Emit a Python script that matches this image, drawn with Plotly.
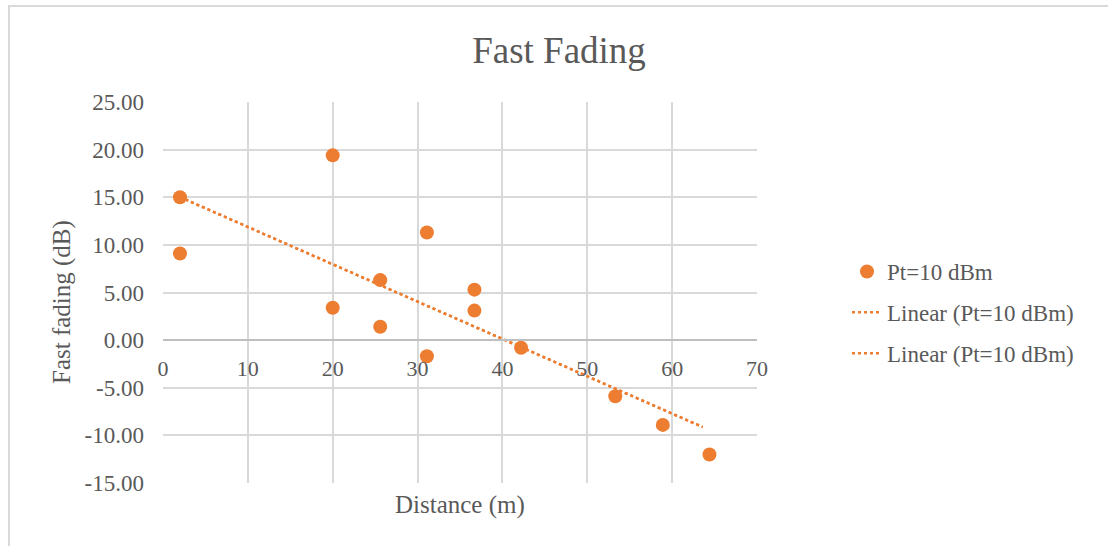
import numpy as np
import plotly.graph_objects as go

distance = [2.0, 2.0, 20.0, 20.0, 25.6, 25.6, 31.1, 31.1, 36.7, 36.7, 42.2, 53.3, 58.9, 64.4]
fading = [15.0, 9.1, 19.4, 3.4, 6.3, 1.4, 11.3, -1.7, 5.3, 3.1, -0.8, -5.9, -8.9, -12.0]
series_name = "Pt=10 dBm"
x_ticks = [0, 10, 20, 30, 40, 50, 60, 70]
y_ticks = [25, 20, 15, 10, 5, 0, -5, -10, -15]

ORANGE = "#ED7D31"
GRID = "#D9D9D9"
TEXT = "#595959"
FONT = "Liberation Serif, Times New Roman, serif"

# Linear trendline (least squares) as Excel computes it
slope, intercept = np.polyfit(distance, fading, 1)
trend_x = [min(distance), max(distance) - 0.8]
trend_y = [slope * v + intercept for v in trend_x]

fig = go.Figure()
fig.add_trace(go.Scatter(x=distance, y=fading, mode="markers", name=series_name,
                         legendgroup="a", marker=dict(color=ORANGE, size=14)))
for g in ["b", "c"]:
    fig.add_trace(go.Scatter(x=trend_x, y=trend_y, mode="lines",
                             name="Linear (" + series_name + ")", legendgroup=g,
                             line=dict(color=ORANGE, width=2.5, dash="dot")))

L, R, T, B = 163, 351, 102, 63
W, H = 1108, 546
plot_h = H - T - B
plot_w = W - L - R
zero_pos = (0 - (-15)) / 40

fig.update_layout(
    width=W, height=H,
    margin=dict(l=L, r=R, t=T, b=B),
    paper_bgcolor="white", plot_bgcolor="white",
    font=dict(family=FONT, color=TEXT, size=22),
    title=dict(text="Fast Fading", x=559 / W, xanchor="center",
               y=1 - 50 / H, yanchor="middle",
               font=dict(family=FONT, size=37, color=TEXT)),
    showlegend=True,
    legend=dict(x=(888 - 41 - L) / plot_w, y=(H - B - 250) / plot_h,
                xanchor="left", yanchor="top",
                font=dict(family=FONT, size=23, color=TEXT),
                bgcolor="rgba(0,0,0,0)", tracegroupgap=8),
    xaxis=dict(range=[0, 70], tickvals=x_ticks, ticktext=[str(v) for v in x_ticks],
               showgrid=True, gridcolor=GRID, gridwidth=2,
               showline=True, linecolor="#BFBFBF", linewidth=2,
               anchor="free", position=zero_pos, zeroline=False,
               ticks="", ticklabelstandoff=8,
               tickfont=dict(family=FONT, size=22, color=TEXT)),
    yaxis=dict(range=[-15, 25], tickvals=y_ticks, ticktext=["%.2f" % v for v in y_ticks],
               showgrid=True, gridcolor=GRID, gridwidth=2, zeroline=False,
               showline=False, ticks="", ticklabelstandoff=18,
               tickfont=dict(family=FONT, size=23, color=TEXT)),
    annotations=[
        dict(text="Distance (m)", xref="paper", yref="paper", x=(460 - L) / plot_w,
             y=-(505 - (H - B)) / plot_h, xanchor="center", yanchor="middle",
             showarrow=False, font=dict(family=FONT, size=25, color=TEXT)),
        dict(text="Fast fading (dB)", xref="paper", yref="paper",
             x=-(L - 62) / plot_w, y=(H - B - 302) / plot_h,
             xanchor="center", yanchor="middle", textangle=-90,
             showarrow=False, font=dict(family=FONT, size=25, color=TEXT)),
    ],
    shapes=[dict(type="rect", xref="paper", yref="paper",
                 x0=-(L - 9) / plot_w, x1=(W + 20 - L) / plot_w,
                 y0=-(B + 20) / plot_h, y1=1 + (T - 6) / plot_h,
                 line=dict(color="#D9D9D9", width=2), layer="below")],
)

fig.write_html("out.html")
